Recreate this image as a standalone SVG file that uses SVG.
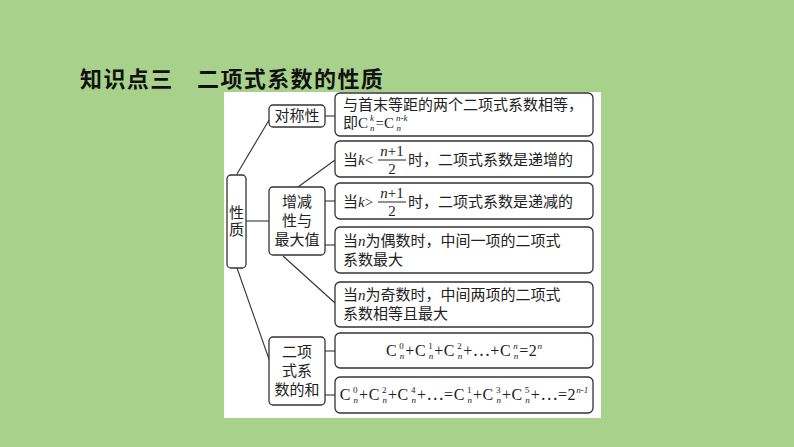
<svg xmlns="http://www.w3.org/2000/svg" width="794" height="447" viewBox="0 0 794 447">
<style>
.b{fill:#fff;stroke:#333;stroke-width:1.3}
.t{font-family:"Liberation Serif","Noto Sans CJK SC",serif;font-size:15px;fill:#222}
.f{font-size:16px;letter-spacing:0.6px}
.i{font-style:italic}
.s{font-size:9px;letter-spacing:0}
.c line{stroke:#333;stroke-width:1.1}
</style>
<rect width="794" height="447" fill="#a8d28b"/>
<text x="80" y="87" font-family="'Noto Sans CJK SC',sans-serif" font-weight="bold" font-size="22" letter-spacing="1.4" fill="#111">知识点三　二项式系数的性质</text>
<rect x="224" y="92" width="377" height="326" fill="#fff"/>
<g class="c">
<line x1="237" y1="174" x2="269" y2="120"/>
<line x1="246" y1="221" x2="269" y2="221"/>
<line x1="237" y1="268" x2="270" y2="362"/>
<line x1="325" y1="116" x2="335" y2="116"/>
<line x1="298" y1="187" x2="335" y2="160"/>
<line x1="325" y1="201" x2="335" y2="201"/>
<line x1="325" y1="245" x2="335" y2="245"/>
<line x1="283" y1="256" x2="335" y2="303"/>
<line x1="325" y1="351" x2="335" y2="351"/>
<line x1="325" y1="395" x2="335" y2="395"/>
</g>
<g id="xingzhi"><rect class="b" x="227" y="175" width="19" height="93" rx="4"/><text class="t" x="236.5" y="218" text-anchor="middle">性</text><text class="t" x="236.5" y="235" text-anchor="middle">质</text></g>
<g id="duichen"><rect class="b" x="269" y="105" width="56" height="22" rx="4"/><text class="t" x="297" y="121" text-anchor="middle">对称性</text></g>
<g id="zengjian"><rect class="b" x="269" y="187" width="56" height="68" rx="4"/><text class="t" x="297" y="207" text-anchor="middle">增减</text><text class="t" x="297" y="226" text-anchor="middle">性与</text><text class="t" x="297" y="245" text-anchor="middle">最大值</text></g>
<g id="he"><rect class="b" x="269" y="337" width="56" height="68" rx="4"/><text class="t" x="297" y="357" text-anchor="middle">二项</text><text class="t" x="297" y="376" text-anchor="middle">式系</text><text class="t" x="297" y="395" text-anchor="middle">数的和</text></g>
<g id="b1"><rect class="b" x="335" y="93" width="258" height="43" rx="5"/><text class="t" x="343" y="110">与首末等距的两个二项式系数相等，</text><text class="t" x="343" y="128">即C<tspan class="i s" dx="2" dy="-7">k</tspan><tspan class="i s" dx="-4" dy="10">n</tspan><tspan dx="1" dy="-3">=C</tspan><tspan class="i s" dx="2" dy="-7">n-k</tspan><tspan class="i s" dx="-11" dy="10">n</tspan></text></g>
<g id="b2"><rect class="b" x="335" y="141" width="258" height="36" rx="5"/><text class="t" x="343" y="165">当<tspan class="i">k</tspan>&lt;</text><text class="t" x="392" y="156" text-anchor="middle"><tspan class="i">n</tspan>+1</text><line x1="378" y1="160" x2="406" y2="160" stroke="#222"/><text class="t" x="392" y="174" text-anchor="middle">2</text><text class="t" x="408" y="165">时，二项式系数是递增的</text></g>
<g id="b3"><rect class="b" x="335" y="183" width="258" height="36" rx="5"/><text class="t" x="343" y="207">当<tspan class="i">k</tspan>&gt;</text><text class="t" x="392" y="198" text-anchor="middle"><tspan class="i">n</tspan>+1</text><line x1="378" y1="202" x2="406" y2="202" stroke="#222"/><text class="t" x="392" y="216" text-anchor="middle">2</text><text class="t" x="408" y="207">时，二项式系数是递减的</text></g>
<g id="b4"><rect class="b" x="335" y="227" width="258" height="46" rx="5"/><text class="t" x="343" y="246">当<tspan class="i">n</tspan>为偶数时，中间一项的二项式</text><text class="t" x="343" y="265">系数最大</text></g>
<g id="b5"><rect class="b" x="335" y="282" width="258" height="45" rx="5"/><text class="t" x="343" y="300">当<tspan class="i">n</tspan>为奇数时，中间两项的二项式</text><text class="t" x="343" y="319">系数相等且最大</text></g>
<g id="b6"><rect class="b" x="335" y="333" width="258" height="35" rx="5"/><text class="t f" x="464" y="356" text-anchor="middle">C<tspan class="s" dx="2" dy="-7">0</tspan><tspan class="i s" dx="-4" dy="10">n</tspan><tspan dx="1" dy="-3">+C</tspan><tspan class="s" dx="2" dy="-7">1</tspan><tspan class="i s" dx="-4" dy="10">n</tspan><tspan dx="1" dy="-3">+C</tspan><tspan class="s" dx="2" dy="-7">2</tspan><tspan class="i s" dx="-4" dy="10">n</tspan><tspan dx="1" dy="-3">+⋯+C</tspan><tspan class="i s" dx="2" dy="-7">n</tspan><tspan class="i s" dx="-4" dy="10">n</tspan><tspan dx="1" dy="-3">=2</tspan><tspan class="i s" dy="-7">n</tspan></text></g>
<g id="b7"><rect class="b" x="335" y="377" width="258" height="36" rx="5"/><text class="t f" x="464" y="400" text-anchor="middle">C<tspan class="s" dx="2" dy="-7">0</tspan><tspan class="i s" dx="-4" dy="10">n</tspan><tspan dx="1" dy="-3">+C</tspan><tspan class="s" dx="2" dy="-7">2</tspan><tspan class="i s" dx="-4" dy="10">n</tspan><tspan dx="1" dy="-3">+C</tspan><tspan class="s" dx="2" dy="-7">4</tspan><tspan class="i s" dx="-4" dy="10">n</tspan><tspan dx="1" dy="-3">+⋯=C</tspan><tspan class="s" dx="2" dy="-7">1</tspan><tspan class="i s" dx="-4" dy="10">n</tspan><tspan dx="1" dy="-3">+C</tspan><tspan class="s" dx="2" dy="-7">3</tspan><tspan class="i s" dx="-4" dy="10">n</tspan><tspan dx="1" dy="-3">+C</tspan><tspan class="s" dx="2" dy="-7">5</tspan><tspan class="i s" dx="-4" dy="10">n</tspan><tspan dx="1" dy="-3">+⋯=2</tspan><tspan class="i s" dy="-7">n-1</tspan></text></g>
</svg>
